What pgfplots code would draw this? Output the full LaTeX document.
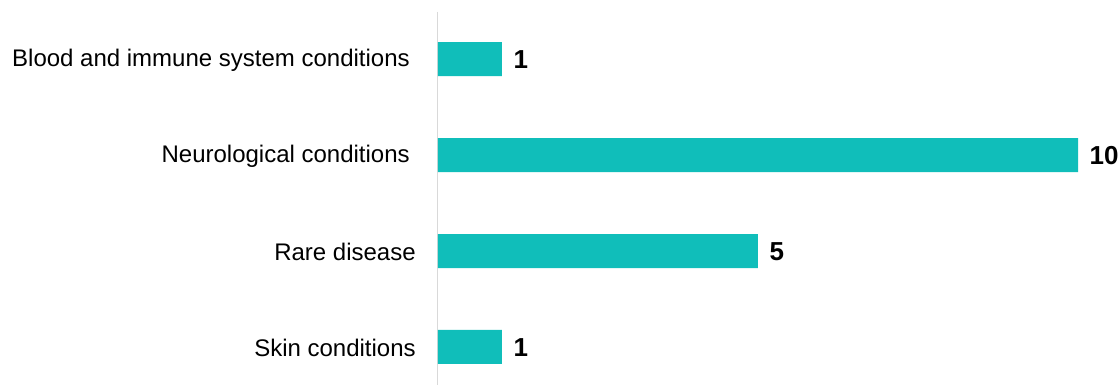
\documentclass[border=0pt]{standalone}
\usepackage{pgfplots}
\pgfplotsset{compat=1.18}
\usepackage{fontspec}
\setmainfont{Liberation Sans}
\definecolor{barc}{RGB}{16,190,186}
\definecolor{axc}{RGB}{217,217,217}
\begin{document}
\begin{tikzpicture}
\useasboundingbox (-328.5pt,0pt) rectangle (511.5pt,288.75pt);
\begin{axis}[
 at={(0pt,0pt)}, anchor=south west,
 scale only axis, width=480pt, height=279.75pt,
 xmin=0, xmax=10, ymin=-0.49, ymax=3.396,
 y dir=reverse,
 axis x line=none, axis y line*=left,
 y axis line style={axc, line width=0.75pt, -},
 ytick={0,1,2,3},
 yticklabels={Blood and immune system conditions\rule{4.5pt}{0pt}, Neurological conditions\rule{4.5pt}{0pt}, Rare disease, Skin conditions},
 major tick length=0pt,
 yticklabel style={font=\fontsize{18pt}{20pt}\selectfont, anchor=east, inner sep=0pt, xshift=-16.5pt, yshift=-1pt},
 xbar, bar width=25.5pt,
 clip=false,
 point meta=x,
 nodes near coords={\pgfmathprintnumber[assume math mode=true]{\pgfplotspointmeta}},
 nodes near coords style={anchor=west, inner sep=0pt, xshift=8.5pt, yshift=-0.5pt, font=\fontsize{19.5pt}{22pt}\selectfont\bfseries, text=black},
]
\addplot[fill=barc, draw=none] coordinates {(1,0) (10,1) (5,2) (1,3)};
\end{axis}
\end{tikzpicture}
\end{document}
